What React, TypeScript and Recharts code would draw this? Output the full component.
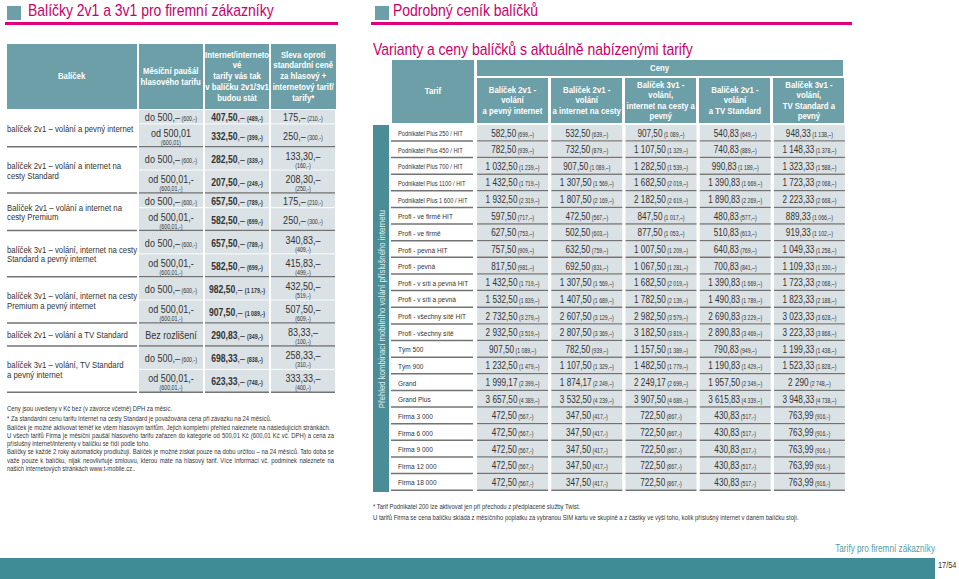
import React from 'react';
import { ScatterChart, Scatter, XAxis, YAxis } from 'recharts';

// no narrow face installed, so Liberation Sans gets squeezed horizontally
const FONT = "'Liberation Sans', Arial, sans-serif";
const SX = 0.82;

const TEAL = '#6c9fa7';
const TEAL_DARK = '#4b8d96';
const FOOT = '#3f8b96';
const MAGENTA = '#c8006a';
const PINK = '#e2007a';
const CELL = '#dbe2e5';
const RULE = '#737373';
const INK = '#333333';

// ---- left table: packages
const leftHeaders = [
  'Balíček',
  'Měsíční paušál\nhlasového tarifu',
  'Internet/interneto\nvé\ntarify vás tak\nv balíčku 2v1/3v1\nbudou stát',
  'Sleva oproti\nstandardní ceně\nza hlasový +\ninternetový tarif/\ntarify*',
];
const packageNames = [
  'balíček 2v1 – volání a pevný internet',
  'balíček 2v1 – volání a internet na\ncesty Standard',
  'Balíček 2v1 – volání a internet na\ncesty Premium',
  'balíček 3v1 – volání, internet na cesty\nStandard a pevný internet',
  'balíček 3v1 – volání, internet na cesty\nPremium a pevný internet',
  'balíček 2v1 – volání a TV Standard',
  'balíček 3v1 – volání, TV Standard\na pevný internet',
];
const subrowPackage = [0, 0, 1, 1, 2, 2, 3, 3, 4, 4, 5, 6, 6];
const tierLabels = ['do 500,–', 'od 500,01', 'do 500,–', 'od 500,01,-', 'do 500,–', 'od 500,01,-', 'do 500,–', 'od 500,01,-', 'do 500,–', 'od 500,01,-', 'Bez rozlišení', 'do 500,–', 'od 500,01,-'];
const tierLabelsDph = ['(600,-)', '(600,01)', '(600,-)', '(600,01,-)', '(600,-)', '(600,01,-)', '(600,-)', '(600,01,-)', '(600,-)', '(600,01,-)', '', '(600,-)', '(600,01,-)'];
const internetPrice = [407.5, 332.5, 282.5, 207.5, 657.5, 582.5, 657.5, 582.5, 982.5, 907.5, 290.83, 698.33, 623.33];
const internetPriceDph = [489, 399, 339, 249, 789, 699, 789, 699, 1179, 1089, 349, 838, 748];
const discount = [175, 250, 133.3, 208.3, 175, 250, 340.83, 415.83, 432.5, 507.5, 83.33, 258.33, 333.33];
const discountDph = [210, 300, 160, 250, 210, 300, 409, 499, 519, 609, 100, 310, 400];

const leftNotes = [
  'Ceny jsou uvedeny v Kč bez (v závorce včetně) DPH za měsíc.',
  '* Za standardní cenu tarifu Internet na cesty Standard je považována cena při závazku na 24 měsíců.',
  'Balíček je možné aktivovat téměř ke všem hlasovým tarifům. Jejich kompletní přehled naleznete na následujících stránkách.',
  'U všech tarifů Firma je měsíční paušál hlasového tarifu zařazen do kategorie od 500,01 Kč (600,01 Kč vč. DPH) a cena za příslušný internet/interenty v balíčku se řídí podle toho.',
  'Balíčky se každé 2 roky automaticky prodlužují. Balíček je možné získat pouze na dobu určitou – na 24 měsíců. Tato doba se váže pouze k balíčku, nijak neovlivňuje smlouvu, kterou máte na hlasový tarif. Více informací vč. podmínek naleznete na našich internetových stránkách www.t-mobile.cz..',
];

// ---- right table: tariffs
const rightHeaders = [
  'Balíček 2v1 -\nvolání\na pevný internet',
  'Balíček 2v1 -\nvolání\na internet na cesty',
  'Balíček 3v1 -\nvolání,\ninternet na cesty a\npevný',
  'Balíček 2v1 -\nvolání\na TV Standard',
  'Balíček 3v1 -\nvolání,\nTV Standard a\npevný',
];
const tarify = [
  'Podnikatel Plus 250 / HIT', 'Podnikatel Plus 450 / HIT', 'Podnikatel Plus 700 / HIT', 'Podnikatel Plus 1100 / HIT', 'Podnikatel Plus 1 600 / HIT',
  'Profi - ve firmě HIT', 'Profi - ve firmě', 'Profi - pevná HIT', 'Profi - pevná', 'Profi - v síti a pevná HIT', 'Profi - v síti a pevná',
  'Profi - všechny sítě HIT', 'Profi - všechny sítě', 'Tým 500', 'Tým 900', 'Grand', 'Grand Plus',
  'Firma 3 000', 'Firma 6 000', 'Firma 9 000', 'Firma 12 000', 'Firma 18 000',
];
const pevnyInternet = [582.5, 782.5, 1032.5, 1432.5, 1932.5, 597.5, 627.5, 757.5, 817.5, 1432.5, 1532.5, 2732.5, 2932.5, 907.5, 1232.5, 1999.17, 3657.5, 472.5, 472.5, 472.5, 472.5, 472.5];
const pevnyInternetDph = [699, 939, 1239, 1719, 2319, 717, 753, 909, 981, 1719, 1839, 3279, 3519, 1089, 1479, 2399, 4389, 567, 567, 567, 567, 567];
const internetCesty = [532.5, 732.5, 907.5, 1307.5, 1807.5, 472.5, 502.5, 632.5, 692.5, 1307.5, 1407.5, 2607.5, 2807.5, 782.5, 1107.5, 1874.17, 3532.5, 347.5, 347.5, 347.5, 347.5, 347.5];
const internetCestyDph = [639, 879, 1089, 1569, 2169, 567, 603, 759, 831, 1569, 1689, 3129, 3369, 939, 1329, 2249, 4239, 417, 417, 417, 417, 417];
const cestyAPevny = [907.5, 1107.5, 1282.5, 1682.5, 2182.5, 847.5, 877.5, 1007.5, 1067.5, 1682.5, 1782.5, 2982.5, 3182.5, 1157.5, 1482.5, 2249.17, 3907.5, 722.5, 722.5, 722.5, 722.5, 722.5];
const cestyAPevnyDph = [1089, 1329, 1539, 2019, 2619, 1017, 1053, 1209, 1281, 2019, 2139, 3579, 3819, 1389, 1779, 2699, 4689, 867, 867, 867, 867, 867];
const tvStandard = [540.83, 740.83, 990.83, 1390.83, 1890.83, 480.83, 510.83, 640.83, 700.83, 1390.83, 1490.83, 2690.83, 2890.83, 790.83, 1190.83, 1957.5, 3615.83, 430.83, 430.83, 430.83, 430.83, 430.83];
const tvStandardDph = [649, 889, 1189, 1669, 2269, 577, 613, 769, 841, 1669, 1789, 3229, 3469, 949, 1429, 2349, 4339, 517, 517, 517, 517, 517];
const tvAPevny = [948.33, 1148.33, 1323.33, 1723.33, 2223.33, 889.33, 919.33, 1049.33, 1109.33, 1723.33, 1823.33, 3023.33, 3223.33, 1199.33, 1523.33, 2290, 3948.33, 763.99, 763.99, 763.99, 763.99, 763.99];
const tvAPevnyDph = [1138, 1378, 1588, 2068, 2668, 1066, 1102, 1258, 1330, 2068, 2188, 3628, 3868, 1438, 1828, 2748, 4738, 916, 916, 916, 916, 916];

const rightNotes = [
  '* Tarif Podnikatel 200 lze aktivovat jen při přechodu z předplacené služby Twist.',
  'U tarifů Firma se cena balíčku skládá z měsíčního poplatku za vybranou SIM kartu ve skupině a z částky ve výši toho, kolik příslušný internet v daném balíčku stojí.',
];

function cz(v: number) {
  const [i, d] = (Number.isInteger(v) ? String(v) : v.toFixed(2)).split('.');
  const grouped = i.replace(/\B(?=(\d{3})+(?!\d))/g, ' ');
  return d ? `${grouped},${d}` : grouped;
}

// horizontal squeeze of svg text around an anchor x
const squeeze = (ax: number) => `matrix(${SX} 0 0 1 ${ax * (1 - SX)} 0)`;
const narrow = (origin: string): React.CSSProperties => ({ transform: `scaleX(${SX})`, transformOrigin: origin });

// ---- left table geometry in data units
const subLines = tierLabels.map((t, i) => (t.startsWith('od') || !Number.isInteger(discount[i]) ? 2 : 1));
const subUnits = subLines.map((n) => (n === 2 ? 1.6 : 1));
const subStart = subUnits.map((_, i) => subUnits.slice(0, i).reduce((a, b) => a + b, 0));
const L_TOTAL = subUnits.reduce((a, b) => a + b, 0);
const L_W = 330;
const L_H = 283;

const namePoints = packageNames.map((name, p) => {
  const idx = subrowPackage.map((q, i) => (q === p ? i : -1)).filter((i) => i >= 0);
  const y0 = subStart[idx[0]];
  const y1 = subStart[idx[idx.length - 1]] + subUnits[idx[idx.length - 1]];
  return { x: 1, y: (y0 + y1) / 2, h: y1 - y0, span: 2, kind: 'name', name, last: true, i: p };
});
const colPoints = (kind: string, x: number) =>
  tierLabels.map((_, i) => ({
    x,
    y: subStart[i] + subUnits[i] / 2,
    h: subUnits[i],
    span: 1,
    kind,
    i,
    last: subrowPackage[i] !== subrowPackage[i + 1],
  }));

function LeftCell(props: any) {
  const { cx, cy, payload: d } = props;
  const ux = L_W / 5;
  const uy = L_H / L_TOTAL;
  const w = d.span * ux - 2;
  const h = d.h * uy;
  const x0 = cx - (d.span * ux) / 2;
  const y0 = cy - h / 2;
  const tx = x0 + w / 2;
  const i = d.i;
  let body: React.ReactNode = null;

  if (d.kind === 'name') {
    const lines = d.name.split('\n');
    body = (
      <g transform={squeeze(x0)}>
        <text fontSize={9.5} fill={INK}>
          {lines.map((l: string, k: number) => (
            <tspan key={k} x={x0} y={cy + 3.2 + (k - (lines.length - 1) / 2) * 9.5}>{l}</tspan>
          ))}
        </text>
      </g>
    );
  } else if (d.kind === 'tier') {
    const main = tierLabels[i];
    const sub = tierLabelsDph[i];
    body = main.startsWith('od') ? (
      <text textAnchor="middle" fill={INK}>
        <tspan x={tx} y={cy + 1} fontSize={11}>{main}</tspan>
        <tspan x={tx} y={cy + 9} fontSize={6.5}>{sub}</tspan>
      </text>
    ) : (
      <text x={tx} y={cy + 3.8} textAnchor="middle" fill={INK}>
        <tspan fontSize={11}>{main}</tspan>
        {sub && <tspan fontSize={6.5}>{' ' + sub}</tspan>}
      </text>
    );
  } else if (d.kind === 'net') {
    body = (
      <text x={tx} y={cy + 3.8} textAnchor="middle" fill={INK}>
        <tspan fontSize={10.5} fontWeight="bold">{cz(internetPrice[i])}</tspan>
        <tspan fontSize={10.5}>,– </tspan>
        <tspan fontSize={6.5} fontWeight="bold">({cz(internetPriceDph[i])},-)</tspan>
      </text>
    );
  } else {
    const v = discount[i];
    body = Number.isInteger(v) ? (
      <text x={tx} y={cy + 3.8} textAnchor="middle" fill={INK}>
        <tspan fontSize={11}>{cz(v)},–</tspan>
        <tspan fontSize={6.5}> ({cz(discountDph[i])},-)</tspan>
      </text>
    ) : (
      <text textAnchor="middle" fill={INK}>
        <tspan x={tx} y={cy + 1} fontSize={11}>{cz(v)},–</tspan>
        <tspan x={tx} y={cy + 9} fontSize={6.5}>({cz(discountDph[i])},-)</tspan>
      </text>
    );
  }

  return (
    <g>
      {d.kind !== 'name' && <rect x={x0} y={y0} width={w} height={h} fill={CELL} />}
      {d.last ? (
        <line x1={x0} x2={x0 + w} y1={y0 + h - 0.75} y2={y0 + h - 0.75} stroke={RULE} strokeWidth={1.5} />
      ) : (
        <line x1={x0} x2={x0 + w} y1={y0 + h - 0.5} y2={y0 + h - 0.5} stroke="#ffffff" strokeWidth={1} />
      )}
      {d.kind === 'name' ? body : <g transform={squeeze(tx)}>{body}</g>}
    </g>
  );
}

// ---- right table geometry
const R_W = 456;
const R_H = 366;
const R_AXIS = 85;
const RH = R_H / tarify.length;
const rightCols = [
  [pevnyInternet, pevnyInternetDph],
  [internetCesty, internetCestyDph],
  [cestyAPevny, cestyAPevnyDph],
  [tvStandard, tvStandardDph],
  [tvAPevny, tvAPevnyDph],
];
const rightPoints = rightCols.map(([vals, dph], c) =>
  tarify.map((t, r) => ({ x: c + 0.5, y: r + 0.5, v: vals[r], dph: dph[r], dash: t.startsWith('Firma') ? '-' : '–' }))
);

function RightCell(props: any) {
  const { cx, cy, payload: d } = props;
  const x0 = cx - 36;
  const y0 = cy - RH / 2;
  const tx = x0 + 35.5;
  return (
    <g>
      <rect x={x0} y={y0} width={71} height={RH - 1.5} fill={CELL} />
      <line x1={x0} x2={x0 + 71} y1={y0 + RH - 0.75} y2={y0 + RH - 0.75} stroke={RULE} strokeWidth={1.5} />
      <g transform={squeeze(tx)}>
        <text x={tx} y={cy + 3.2} textAnchor="middle" fill={INK}>
          <tspan fontSize={10}>{cz(d.v)}</tspan>
          <tspan fontSize={6.3}> ({cz(d.dph)},{d.dash})</tspan>
        </text>
      </g>
    </g>
  );
}

function TarifTick(props: any) {
  const { x, y, payload } = props;
  const name = tarify[Math.floor(payload.value)];
  const tx = x - 78;
  return (
    <g>
      <g transform={squeeze(tx)}>
        <text x={tx} y={y + 2.8} fontSize={name.startsWith('Podnikatel') ? 7 : 8} fill={INK} textAnchor="start">
          {name}
        </text>
      </g>
      <line x1={x - 85} x2={x - 3} y1={y + RH / 2 - 0.75} y2={y + RH / 2 - 0.75} stroke={RULE} strokeWidth={1.5} />
    </g>
  );
}

const headCell: React.CSSProperties = {
  position: 'absolute',
  background: TEAL,
  color: '#fff',
  fontWeight: 'bold',
  fontSize: 9.5,
  lineHeight: '10.8px',
  display: 'flex',
  alignItems: 'center',
  justifyContent: 'center',
  textAlign: 'center',
};

const abs = (left: number, top: number, extra: React.CSSProperties = {}): React.CSSProperties => ({
  position: 'absolute',
  left,
  top,
  ...extra,
});

function HeadText({ children }: { children: string }) {
  return <div style={{ whiteSpace: 'pre', flexShrink: 0, ...narrow('center') }}>{children}</div>;
}

export default function App() {
  const leftHeadPos = [
    [7, 130],
    [139, 64],
    [205, 64],
    [271, 65],
  ];
  const title = (left: number, top: number, text: string) => (
    <div style={abs(left, top, { fontSize: 17, lineHeight: '20px', color: MAGENTA, whiteSpace: 'nowrap', ...narrow('left top') })}>
      {text}
    </div>
  );
  return (
    <div style={{ position: 'relative', width: 959, height: 579, overflow: 'hidden', background: '#fff', fontFamily: FONT, color: INK }}>
      <style>{'body{margin:0}'}</style>

      {/* titles */}
      <div style={abs(7, 6, { width: 14, height: 14, background: TEAL })} />
      {title(28, 1, 'Balíčky 2v1 a 3v1 pro firemní zákazníky')}
      <div style={abs(5, 22, { width: 333, height: 3, background: PINK })} />

      <div style={abs(375, 6, { width: 14, height: 14, background: TEAL })} />
      {title(393, 1, 'Podrobný ceník balíčků')}
      <div style={abs(371, 22, { width: 481, height: 3, background: PINK })} />
      {title(373, 40, 'Varianty a ceny balíčků s aktuálně nabízenými tarify')}

      {/* left table */}
      {leftHeaders.map((t, k) => (
        <div key={k} style={{ ...headCell, left: leftHeadPos[k][0], top: 44, width: leftHeadPos[k][1], height: 65 }}>
          <HeadText>{t}</HeadText>
        </div>
      ))}
      <div style={abs(7, 110)}>
        <ScatterChart width={L_W} height={L_H} margin={{ top: 0, right: 0, bottom: 0, left: 0 }}>
          <XAxis type="number" dataKey="x" domain={[0, 5]} allowDataOverflow hide />
          <YAxis type="number" dataKey="y" domain={[0, L_TOTAL]} allowDataOverflow reversed hide />
          <Scatter data={namePoints} shape={LeftCell} isAnimationActive={false} />
          <Scatter data={colPoints('tier', 2.5)} shape={LeftCell} isAnimationActive={false} />
          <Scatter data={colPoints('net', 3.5)} shape={LeftCell} isAnimationActive={false} />
          <Scatter data={colPoints('disc', 4.5)} shape={LeftCell} isAnimationActive={false} />
        </ScatterChart>
      </div>
      <div style={abs(7, 405, { width: 327 / SX, fontSize: 7.2, lineHeight: '8.3px', color: INK, ...narrow('left top') })}>
        {leftNotes.map((n, k) => (
          <div key={k} style={{ textAlign: 'justify', marginBottom: k === 0 ? 2 : 0 }}>{n}</div>
        ))}
      </div>

      {/* right table */}
      <div style={{ ...headCell, left: 392, top: 60, width: 82, height: 63 }}><HeadText>Tarif</HeadText></div>
      <div style={{ ...headCell, left: 477, top: 60, width: 366, height: 16 }}><HeadText>Ceny</HeadText></div>
      {rightHeaders.map((t, k) => (
        <div key={k} style={{ ...headCell, left: 477 + k * 74, top: 78, width: 71, height: 45, lineHeight: '10.5px' }}>
          <HeadText>{t}</HeadText>
        </div>
      ))}
      <div style={abs(373, 125, { width: 16, height: 367, background: TEAL_DARK })}>
        <div
          style={{
            position: 'absolute',
            left: '50%',
            top: '50%',
            transform: `translate(-50%, -50%) rotate(-90deg) scaleX(${SX})`,
            whiteSpace: 'nowrap',
            color: '#e3eff1',
            fontSize: 9.5,
          }}
        >
          Přehled kombinací mobilního volání příslušného internetu
        </div>
      </div>
      <div style={abs(391, 125)}>
        <ScatterChart width={R_W} height={R_H} margin={{ top: 0, right: 0, bottom: 0, left: 0 }}>
          <XAxis type="number" dataKey="x" domain={[0, 5]} allowDataOverflow hide />
          <YAxis
            type="number"
            dataKey="y"
            domain={[0, tarify.length]}
            allowDataOverflow
            reversed
            width={R_AXIS}
            ticks={tarify.map((_, r) => r + 0.5)}
            interval={0}
            tick={<TarifTick />}
            tickSize={0}
            tickMargin={0}
            axisLine={false}
            tickLine={false}
          />
          {rightPoints.map((pts, c) => (
            <Scatter key={c} data={pts} shape={RightCell} isAnimationActive={false} />
          ))}
        </ScatterChart>
      </div>
      <div style={abs(373, 502, { fontSize: 7.2, lineHeight: '10.5px', color: INK, whiteSpace: 'nowrap', ...narrow('left top') })}>
        {rightNotes.map((n, k) => (
          <div key={k}>{n}</div>
        ))}
      </div>

      {/* footer */}
      <div style={abs(635, 543, { width: 300, textAlign: 'right', fontSize: 10, color: '#5b9aa3', ...narrow('right top') })}>
        Tarify pro firemní zákazníky
      </div>
      <div style={abs(0, 558, { width: 935, height: 21, background: FOOT })} />
      <div style={abs(938, 560, { fontSize: 9, color: INK, ...narrow('left top') })}>17/54</div>
    </div>
  );
}
